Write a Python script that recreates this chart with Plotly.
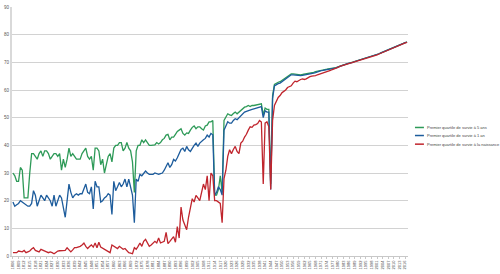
import plotly.graph_objects as go

years = list(range(1806, 2018))

series_names = [
    "Premier quartile de survie à 5 ans",
    "Premier quartile de survie à 1 an",
    "Premier quartile de survie à la naissance",
]

survie_5ans = [
    30, 29, 27, 27, 32, 31, 21, 21, 21, 30,
    37, 37, 36, 35, 37, 38, 36, 38, 38, 37,
    35, 36, 37, 37, 36, 37, 31, 35, 32, 35,
    39, 36, 37, 36, 35, 35, 35, 37, 38, 39,
    36, 35, 36, 31, 39, 39, 38, 33, 35, 30,
    33, 36, 37, 34, 39, 40, 40, 41, 41, 38,
    39, 41, 39, 38, 34, 23, 38, 40, 40, 42,
    41, 42, 41, 40, 40, 40, 40.2, 41, 40.5, 41,
    42, 42.5, 43.7, 44, 42, 43, 43, 44, 45, 45.5,
    46, 44.3, 43.7, 44.5, 44.3, 45.5, 46.5, 47, 46, 46.7,
    46.7, 46, 45.5, 47, 47.3, 48.5, 48.5, 49, 22, 22,
    24, 29, 23, 49, 50.5, 51.4, 51, 50.8, 51.5, 52,
    51.4, 52, 52.6, 53, 53.8, 54, 54.4, 54, 54.4, 54.4,
    54.6, 54.8, 55, 55, 51, 53.5, 53, 53, 26, 58,
    62, 62.5, 62.8, 63, 63.5, 64, 64.4, 64.9, 65.3, 65.8,
    65.8, 65.7, 65.5, 65.6, 65.5, 65.6, 65.7, 65.8, 65.9, 66.0,
    66.2, 66.4, 66.6, 66.8, 67.0, 67.2, 67.3, 67.4, 67.5, 67.6,
    67.6, 67.7, 67.9, 68.1, 68.4, 68.7, 68.9, 69.1, 69.3, 69.5,
    69.7, 69.9, 70.1, 70.3, 70.5, 70.7, 71.0, 71.2, 71.4, 71.6,
    71.8, 72.0, 72.2, 72.4, 72.6, 72.8, 73.1, 73.4, 73.7, 74.0,
    74.3, 74.6, 74.9, 75.2, 75.5, 75.8, 76.1, 76.4, 76.7, 76.9,
    77.1, 77.3,
]

survie_1an = [
    19.5, 18, 18.5, 19, 20, 19.5, 19, 18.5, 18, 18,
    19, 23.6, 22, 18, 20, 22, 21, 20, 22, 21,
    20, 18, 22, 18, 20, 22, 21, 18, 14, 20,
    26, 23, 21, 22, 22.5, 22, 22.5, 22.5, 24, 26,
    23, 22.5, 25, 17, 27, 25, 25, 19.5, 20, 21,
    21.5, 22.5, 22, 15, 27, 23.6, 25, 26.6, 25, 26,
    27.8, 25, 27.8, 25.4, 22, 12, 27.8, 27, 29.5, 29,
    30, 30.7, 30, 29.5, 29.5, 29.5, 30, 29.8, 29.5, 29.8,
    30, 31, 32.5, 33.7, 32, 33, 34.9, 34.3, 35.5, 37,
    38.5, 39, 37.8, 39.6, 38.4, 37.8, 39, 40, 40.8, 39.6,
    40.8, 41.5, 42, 42.5, 43.7, 43, 44.3, 43.8, 22, 23,
    25, 24, 22, 45.5, 47, 48.5, 48, 48, 49, 49.6,
    49.3, 50, 50.8, 51.4, 52, 52.3, 52.6, 52.8, 53, 53.2,
    53.4, 53.6, 53.8, 54, 50, 52.5, 52, 52, 24, 57,
    61.5, 62, 62.3, 62.5, 63, 63.5, 64, 64.5, 65, 65.5,
    65.5, 65.4, 65.2, 65.3, 65.2, 65.3, 65.4, 65.5, 65.6, 65.7,
    65.9, 66.1, 66.3, 66.6, 66.8, 67, 67.1, 67.2, 67.3, 67.4,
    67.5, 67.6, 67.8, 68.0, 68.3, 68.6, 68.9, 69.1, 69.3, 69.5,
    69.6, 69.8, 70.0, 70.3, 70.5, 70.7, 71.0, 71.2, 71.4, 71.6,
    71.8, 72.0, 72.2, 72.4, 72.6, 72.8, 73.1, 73.4, 73.7, 74.0,
    74.3, 74.6, 74.9, 75.2, 75.5, 75.8, 76.1, 76.4, 76.7, 76.9,
    77.1, 77.3,
]

survie_naissance = [
    1.2, 1.2, 1.2, 1.8, 1.7, 1.5, 2, 1.2, 1.5, 1.8,
    2.5, 3, 2, 1.8, 1.5, 2.4, 2, 1.8, 1.5, 1.2,
    1.5, 1.2, 0.8, 1.3, 1.8, 1.9, 2, 2, 2, 3,
    2.2, 1.5, 2.2, 3, 3, 3.2, 3.5, 4, 4.7, 3.5,
    2.7, 3.4, 4, 3.2, 4.7, 3, 5, 3.2, 2.8, 2.4,
    2, 1.5, 1.2, 4, 3.5, 3, 2.7, 3.5, 3, 2.4,
    2.7, 2, 1.2, 1, 0.8, 3, 2.4, 3.5, 4.7, 3.5,
    5.3, 6, 4.5, 3.5, 4, 4.7, 5.3, 4.7, 6.5, 4.7,
    5, 5.3, 8.5, 4.5, 5.3, 6, 7, 5, 10.6, 6.5,
    17.7, 13, 11, 9.5, 14, 18, 20.7, 19.5, 21.9, 21,
    20, 23, 26, 24, 29, 20, 30, 29, 20, 20,
    19.5, 19, 12, 28, 31, 36, 38.4, 37, 38.5, 39.6,
    37.8, 37, 40.8, 41.5, 43, 44, 45.5, 46.7, 46.5, 47.3,
    47.5, 47.9, 49, 48.4, 26, 48, 48.5, 46.7, 24, 49,
    54.4, 56, 57.3, 58, 59, 59.5, 60, 60.9, 61.2, 61.5,
    62.5, 63.2, 63, 63.5, 63.8, 64, 63.8, 64, 64.5, 64.8,
    65, 65, 65.2, 65.5, 65.7, 65.9, 66.2, 66.4, 66.6, 66.8,
    67.1, 67.4, 67.6, 67.9, 68.2, 68.5, 68.7, 68.9, 69.1, 69.3,
    69.5, 69.7, 69.9, 70.2, 70.4, 70.6, 70.9, 71.1, 71.3, 71.5,
    71.7, 71.9, 72.1, 72.3, 72.5, 72.7, 73, 73.3, 73.6, 73.9,
    74.2, 74.5, 74.8, 75.1, 75.4, 75.7, 76, 76.3, 76.6, 76.8,
    77, 77.2,
]

tick_years = years[::3]
tick_labels = [str(y) for y in tick_years]
y_ticks = list(range(0, 91, 10))

colors = ["#2e9a58", "#1d5c9c", "#c0252d"]
all_series = [survie_5ans, survie_1an, survie_naissance]

fig = go.Figure()
for name, vals, col in zip(series_names, all_series, colors):
    fig.add_trace(go.Scatter(x=years, y=vals, mode="lines", name=name,
                             line=dict(color=col, width=1.3), showlegend=False))

# manual compact legend (paper coordinates)
L, R, T, B = 10, 92, 4.5, 15.7
pw, ph = 500 - L - R, 274 - T - B
leg_y_px = [127.3, 135.5, 144.3]
for name, col, ypx in zip(series_names, colors, leg_y_px):
    yp = (274 - B - ypx) / ph
    fig.add_shape(type="line", xref="paper", yref="paper",
                  x0=(415 - L) / pw, x1=(424 - L) / pw, y0=yp, y1=yp,
                  line=dict(color=col, width=1.5))
    fig.add_annotation(xref="paper", yref="paper", x=(425 - L) / pw, y=yp,
                       text=name, showarrow=False, xanchor="left", yanchor="middle",
                       font=dict(size=4, color="#444", family="Liberation Sans"))

fig.update_layout(
    width=500, height=274,
    margin=dict(l=L, r=R, t=T, b=B, pad=0),
    paper_bgcolor="white", plot_bgcolor="white",
    font=dict(family="Liberation Sans", color="#555"),
    xaxis=dict(range=[1805.5, 2017.5], tickmode="array", tickvals=tick_years,
               ticktext=tick_labels, tickangle=-90, tickfont=dict(size=4, color="#444"),
               showgrid=False, showline=True, linecolor="#c8c8c8", linewidth=1,
               ticks="outside", ticklen=2, tickcolor="#c8c8c8", zeroline=False),
    yaxis=dict(range=[0, 90], tickmode="array", tickvals=y_ticks,
               tickfont=dict(size=4.5, color="#555"), showgrid=True,
               gridcolor="#d2d2d2", gridwidth=1, showline=True, linecolor="#d9d9d9",
               linewidth=2, zeroline=False, ticks=""),
)

fig.write_html("out.html")
